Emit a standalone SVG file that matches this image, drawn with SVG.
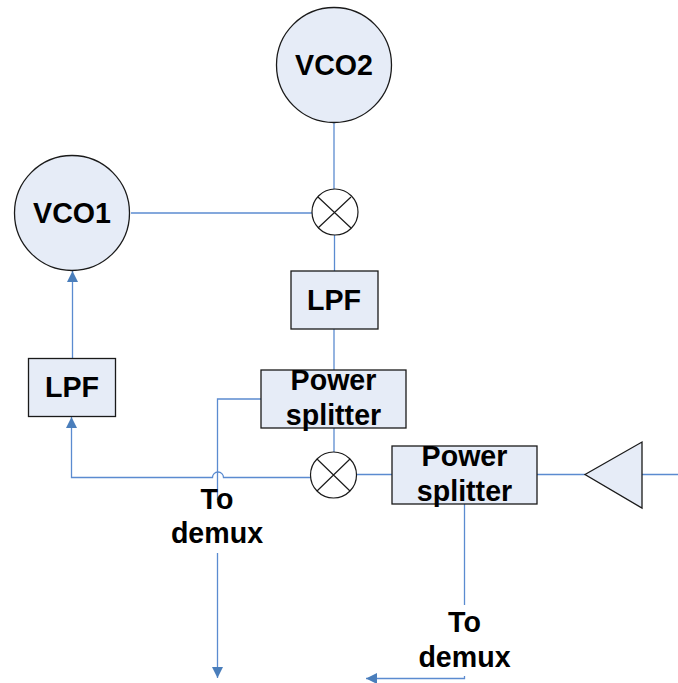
<svg xmlns="http://www.w3.org/2000/svg" width="678" height="683" viewBox="0 0 678 683">
<defs>
<marker id="a" markerUnits="userSpaceOnUse" markerWidth="12" markerHeight="12" refX="11" refY="5.500" orient="auto"><path d="M0 0L11 5.500L0 11z" fill="#4a7ebb"/></marker>
</defs>
<style>
.n{fill:#e6ecf7;stroke:#1a1a1a;stroke-width:1.3}
.c{fill:none;stroke:#5b8bd0;stroke-width:1.3}
.x{stroke:#1a1a1a;stroke-width:1.2;fill:none}
text{font-family:"Liberation Sans",Arial,sans-serif;font-weight:bold;font-size:28.6px;fill:#000;text-anchor:middle}
</style>
<rect width="678" height="683" fill="#fff"/>
<g id="connectors">
<path class="c" d="M334 122V189"/>
<path class="c" d="M131 213H312"/>
<path class="c" d="M334.500 235V271"/>
<path class="c" d="M334 328V370"/>
<path class="c" d="M334 428V452"/>
<path class="c" d="M72.500 358V271" marker-end="url(#a)"/>
<path class="c" d="M311 477.500H223.500A5.500 5.500 0 0 0 212.500 477.500H71.500V417" marker-end="url(#a)"/>
<path class="c" d="M261 399H217.500V500"/>
<path class="c" d="M217.500 553V678" marker-end="url(#a)"/>
<path class="c" d="M357 474.500H392"/>
<path class="c" d="M537 474.500H585"/>
<path class="c" d="M642 474.500H678"/>
<path class="c" d="M464.500 504V605"/>
<path class="c" d="M464.500 676V678.500H366" marker-end="url(#a)"/>
</g>
<g id="vco2"><circle class="n" cx="334" cy="65" r="57.500"/><text x="334" y="75">VCO2</text></g>
<g id="vco1"><circle class="n" cx="72" cy="213" r="57.500"/><text x="72" y="223">VCO1</text></g>
<g id="mixer1"><circle class="x" cx="335" cy="212" r="23"/><path class="x" d="M318 197L351 228M351 197L318 228"/></g>
<g id="mixer2"><circle class="x" cx="333.500" cy="475" r="23"/><path class="x" d="M317 459L350 491M350 459L317 491"/></g>
<g id="lpf2"><rect class="n" x="291" y="271" width="87" height="58"/><text x="334" y="310">LPF</text></g>
<g id="lpf1"><rect class="n" x="28.500" y="358.500" width="87" height="58"/><text x="72" y="397">LPF</text></g>
<g id="splitter1"><rect class="n" x="261" y="370" width="145" height="58"/><text x="333.500" y="390">Power</text><text x="333.500" y="425">splitter</text></g>
<g id="splitter2"><rect class="n" x="392" y="446" width="145" height="58"/><text x="464.500" y="466">Power</text><text x="464.500" y="501">splitter</text></g>
<g id="amp"><path class="n" d="M585 474.500L642 442V508z"/></g>
<g id="label1"><text x="217" y="509">To</text><text x="217" y="543">demux</text></g>
<g id="label2"><text x="464.500" y="632">To</text><text x="464.500" y="667">demux</text></g>
</svg>
